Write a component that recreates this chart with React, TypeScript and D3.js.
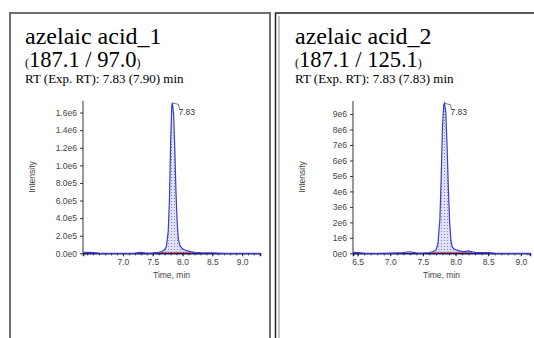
import * as d3 from 'd3';
import { useEffect, useRef } from 'react';

// panel texts
const titles = ['azelaic acid_1', 'azelaic acid_2'];
const transitions = ['187.1 / 97.0', '187.1 / 125.1'];
const rtLines = ['RT (Exp. RT): 7.83 (7.90) min', 'RT (Exp. RT): 7.83 (7.83) min'];
const apexLabels = ['7.83', '7.83'];

// chromatogram 1 (intensity in counts)
const time1 = [6.33, 6.4, 6.5, 6.6, 6.8, 7.0, 7.2, 7.3, 7.35, 7.4, 7.5, 7.6, 7.65, 7.7, 7.73, 7.76, 7.78, 7.8, 7.82, 7.83, 7.85, 7.87, 7.89, 7.91, 7.93, 7.96, 8.0, 8.05, 8.1, 8.15, 8.2, 8.3, 8.4, 8.5, 8.7, 9.0, 9.3];
const intensity1 = [12e3, 10e3, 8e3, 2e3, 0, 0, 3e3, 10e3, 6e3, 2e3, 4e3, 10e3, 20e3, 40e3, 80e3, 250e3, 600e3, 1250e3, 1680e3, 1710e3, 1580e3, 1200e3, 700e3, 350e3, 160e3, 80e3, 50e3, 35e3, 25e3, 18e3, 12e3, 8e3, 6e3, 4e3, 0, 0, 0];

// chromatogram 2
const time2 = [6.43, 6.5, 6.6, 6.8, 7.0, 7.1, 7.2, 7.25, 7.3, 7.35, 7.4, 7.5, 7.6, 7.65, 7.7, 7.73, 7.76, 7.78, 7.8, 7.82, 7.83, 7.85, 7.87, 7.89, 7.91, 7.93, 7.95, 7.98, 8.02, 8.06, 8.1, 8.15, 8.2, 8.25, 8.3, 8.4, 8.5, 8.6, 8.8, 9.0, 9.14];
const intensity2 = [60e3, 40e3, 15e3, 0, 15e3, 30e3, 50e3, 70e3, 100e3, 60e3, 30e3, 20e3, 50e3, 100e3, 220e3, 600e3, 2200e3, 4800e3, 8200e3, 9600e3, 9700e3, 9200e3, 7000e3, 4200e3, 2000e3, 800e3, 400e3, 280e3, 200e3, 160e3, 130e3, 110e3, 150e3, 90e3, 60e3, 50e3, 40e3, 15e3, 0, 0, 0];

const xTicks1 = [7.0, 7.5, 8.0, 8.5, 9.0];
const xTicks2 = [6.5, 7.0, 7.5, 8.0, 8.5, 9.0];
const yTicks1 = [0, 2e5, 4e5, 6e5, 8e5, 10e5, 12e5, 14e5, 16e5];
const yTickLabels1 = ['0.0e0', '2.0e5', '4.0e5', '6.0e5', '8.0e5', '1.0e6', '1.2e6', '1.4e6', '1.6e6'];
const yTicks2 = [0, 1e6, 2e6, 3e6, 4e6, 5e6, 6e6, 7e6, 8e6, 9e6];
const yTickLabels2 = ['0e0', '1e6', '2e6', '3e6', '4e6', '5e6', '6e6', '7e6', '8e6', '9e6'];
const integration1 = [7.62, 8.2];
const integration2 = [7.62, 8.26];

const panels = [
  { time: time1, intensity: intensity1, xDomain: [6.33, 9.3], yMax: 1.72e6, xTicks: xTicks1, yTicks: yTicks1, yLabels: yTickLabels1, integ: integration1, textX: 25 },
  { time: time2, intensity: intensity2, xDomain: [6.43, 9.14], yMax: 9.78e6, xTicks: xTicks2, yTicks: yTicks2, yLabels: yTickLabels2, integ: integration2, textX: 295 },
];

const App = () => {
  const ref = useRef<SVGSVGElement>(null);

  useEffect(() => {
    const svg = d3.select(ref.current);
    svg.selectAll('*').remove();

    const defs = svg.append('defs');
    const pat = defs.append('pattern')
      .attr('id', 'hatch')
      .attr('width', 3)
      .attr('height', 3)
      .attr('patternUnits', 'userSpaceOnUse');
    pat.append('rect').attr('width', 3).attr('height', 3).attr('fill', '#e2e2f7');
    pat.append('rect').attr('width', 1).attr('height', 1).attr('fill', '#8080d8');

    // frames
    svg.append('path')
      .attr('d', 'M10,338 V13 H270 V338')
      .attr('fill', 'none')
      .attr('stroke', '#707070')
      .attr('stroke-width', 2);
    svg.append('path')
      .attr('d', 'M275.5,338 V13 H534')
      .attr('fill', 'none')
      .attr('stroke', '#222')
      .attr('stroke-width', 1.5);
    svg.append('line')
      .attr('x1', 279).attr('x2', 279).attr('y1', 16).attr('y2', 338)
      .attr('stroke', '#9a9a9a').attr('stroke-width', 1.2);

    panels.forEach((p, i) => {
      const g = svg.append('g');
      const plotLeft = p.textX + 58;
      const plotW = 177;
      const x = d3.scaleLinear().domain(p.xDomain).range([plotLeft, plotLeft + plotW]);
      const y = d3.scaleLinear().domain([0, p.yMax]).range([253.3, 102]);
      const pts = p.time.map((t, k) => ({ t, v: p.intensity[k] }));

      // header texts
      g.append('text')
        .attr('x', p.textX).attr('y', 44)
        .attr('font-family', 'Liberation Serif, serif')
        .attr('font-size', 24)
        .text(titles[i]);
      const tr = g.append('text')
        .attr('x', p.textX).attr('y', 67)
        .attr('font-family', 'Liberation Serif, serif');
      tr.append('tspan').attr('font-size', 12).text('(');
      tr.append('tspan').attr('font-size', 22.5).text(transitions[i]);
      tr.append('tspan').attr('font-size', 12).text(')');
      g.append('text')
        .attr('x', p.textX).attr('y', 83)
        .attr('font-family', 'Liberation Serif, serif')
        .attr('font-size', 13)
        .text(rtLines[i]);

      // integrated area
      const inside = pts.filter(d => d.t >= p.integ[0] && d.t <= p.integ[1]);
      g.append('path')
        .datum(inside)
        .attr('d', d3.area<{ t: number; v: number }>()
          .x(d => x(d.t))
          .y0(y(0))
          .y1(d => y(d.v)))
        .attr('fill', 'url(#hatch)');

      // y axis
      const yAxis = g.append('g')
        .attr('transform', `translate(${plotLeft},0)`)
        .call(d3.axisLeft(y).tickValues(p.yTicks).tickFormat((d, k) => p.yLabels[k]).tickSize(3).tickPadding(3));
      yAxis.select('.domain').attr('stroke', '#333').attr('d', `M0,101V253.3`);
      yAxis.selectAll('line').attr('stroke', '#333');
      yAxis.selectAll('text').attr('font-family', 'Liberation Sans, sans-serif').attr('font-size', 8.5).attr('fill', '#444');

      // x axis minor ticks
      const minor = d3.range(Math.ceil(p.xDomain[0] * 10), Math.floor(p.xDomain[1] * 10) + 1).map(v => v / 10);
      const xMinor = g.append('g')
        .attr('transform', 'translate(0,253.3)')
        .call(d3.axisBottom(x).tickValues(minor).tickFormat(() => '').tickSize(2));
      xMinor.select('.domain').remove();
      xMinor.selectAll('line').attr('stroke', '#222');

      const xAxis = g.append('g')
        .attr('transform', 'translate(0,253.3)')
        .call(d3.axisBottom(x).tickValues(p.xTicks).tickFormat(d3.format('.1f')).tickSize(3).tickPadding(3));
      xAxis.select('.domain').attr('stroke', '#1c1c6a').attr('stroke-width', 1.6);
      xAxis.selectAll('line').attr('stroke', '#222');
      xAxis.selectAll('text').attr('font-family', 'Liberation Sans, sans-serif').attr('font-size', 8.5).attr('fill', '#444');

      // red integration baseline
      g.append('line')
        .attr('x1', x(p.integ[0])).attr('x2', x(p.integ[1]))
        .attr('y1', y(0) - 1).attr('y2', y(0) - 1)
        .attr('stroke', '#c83a3a').attr('stroke-width', 0.9);

      // trace
      g.append('path')
        .datum(pts)
        .attr('d', d3.line<{ t: number; v: number }>().x(d => x(d.t)).y(d => y(d.v)))
        .attr('fill', 'none')
        .attr('stroke', '#3c3cd2')
        .attr('stroke-width', 1.2);

      // apex label
      const apex = pts.reduce((a, b) => (b.v > a.v ? b : a));
      const ax = x(apex.t), ay = y(apex.v);
      g.append('path')
        .attr('d', `M${ax},${ay} L${ax + 6},${ay + 1.5} L${ax + 7},${ay + 6}`)
        .attr('fill', 'none')
        .attr('stroke', '#555')
        .attr('stroke-width', 0.8);
      g.append('text')
        .attr('x', ax + 6).attr('y', ay + 12)
        .attr('font-family', 'Liberation Sans, sans-serif')
        .attr('font-size', 8.5)
        .attr('fill', '#333')
        .text(apexLabels[i]);

      // axis titles
      g.append('text')
        .attr('transform', `translate(${p.textX + 10},177) rotate(-90)`)
        .attr('text-anchor', 'middle')
        .attr('font-family', 'Liberation Sans, sans-serif')
        .attr('font-size', 8.5)
        .attr('fill', '#444')
        .text('Intensity');
      g.append('text')
        .attr('x', plotLeft + plotW / 2).attr('y', 278)
        .attr('text-anchor', 'middle')
        .attr('font-family', 'Liberation Sans, sans-serif')
        .attr('font-size', 8.5)
        .attr('fill', '#444')
        .text('Time, min');
    });
  }, []);

  return (
    <svg ref={ref} width={534} height={338}
      style={{ position: 'absolute', left: 0, top: 0, background: '#fff' }} />
  );
};

export default App;
